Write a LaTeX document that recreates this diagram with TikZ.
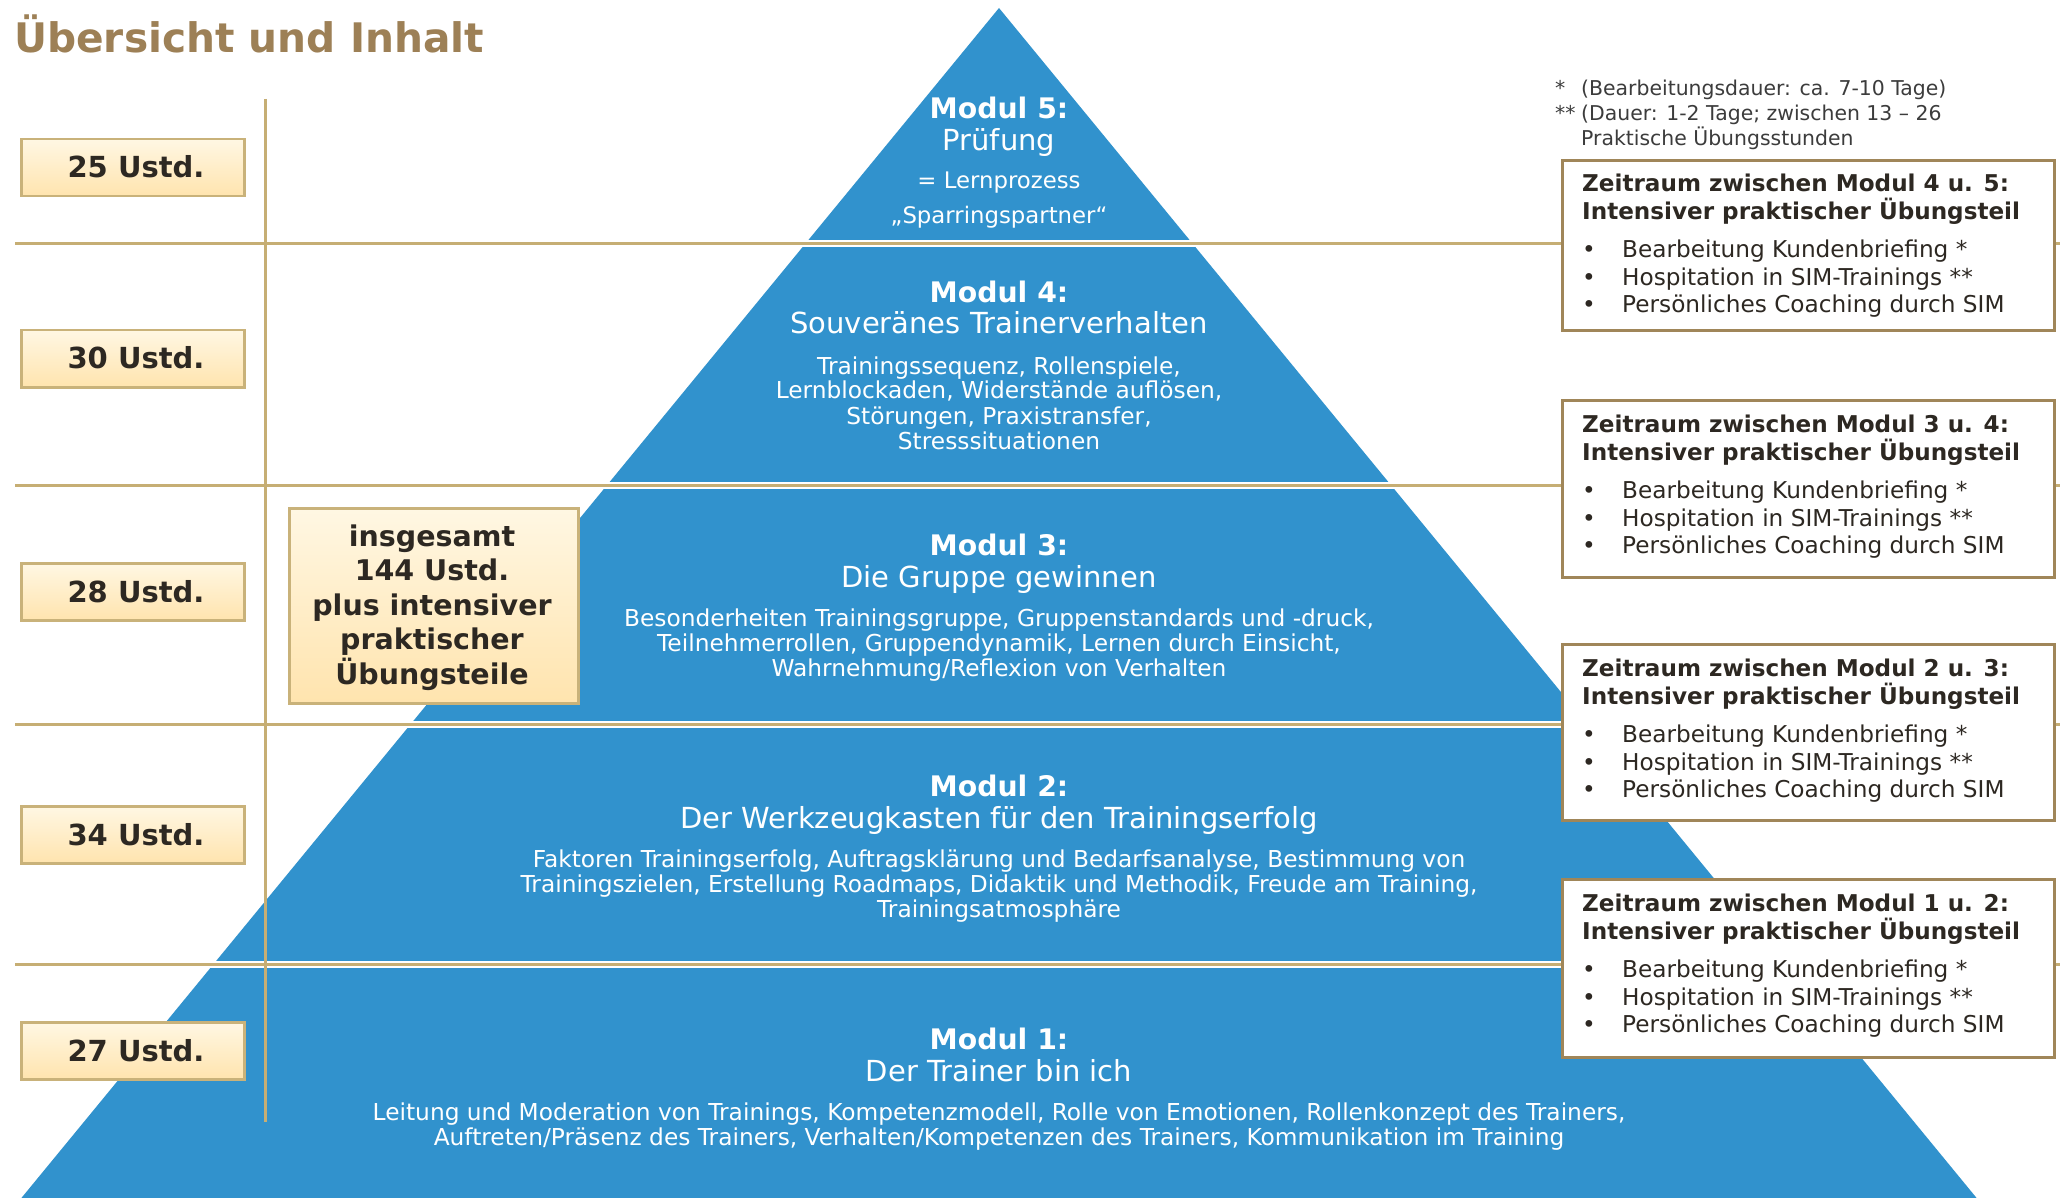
\documentclass[tikz,border=0pt]{standalone}
\usepackage{fontspec}
\setmainfont{DejaVu Sans}
\definecolor{pblue}{RGB}{49,146,205}
\definecolor{goldline}{RGB}{198,174,116}
\definecolor{titlebrown}{RGB}{157,128,86}
\definecolor{lboxborder}{RGB}{201,178,122}
\definecolor{lboxtop}{RGB}{255,247,227}
\definecolor{lboxbot}{RGB}{255,228,174}
\definecolor{rboxborder}{RGB}{160,134,89}
\definecolor{darktext}{RGB}{45,40,34}
\definecolor{notetext}{RGB}{60,60,60}
\tikzset{
  lbox/.style={draw=lboxborder, line width=2.5pt, top color=lboxtop, bottom color=lboxbot, inner sep=0pt, anchor=north west},
  rbox/.style={draw=rboxborder, line width=3pt, fill=white, inner sep=0pt, anchor=north west},
  txt/.style={inner sep=0pt, anchor=base},
  modtitle/.style={txt, text=white, font=\bfseries\fontsize{28.3}{30}\selectfont},
  modsub/.style={txt, text=white, font=\fontsize{29}{30}\selectfont},
  moddesc/.style={txt, text=white, font=\fontsize{23.3}{25}\selectfont},
  hours/.style={txt, text=darktext, font=\bfseries\fontsize{29}{30}\selectfont},
  total/.style={txt, text=darktext, font=\bfseries\fontsize{28.5}{30}\selectfont},
  rtitle/.style={txt, anchor=base west, text=darktext, font=\bfseries\fontsize{23.1}{28}\selectfont},
  ritem/.style={txt, anchor=base west, text=darktext, font=\fontsize{23.2}{28}\selectfont},
  note/.style={txt, anchor=base west, text=notetext, font=\fontsize{20.4}{24}\selectfont},
  sepline/.style={white, line width=7pt},
  gline/.style={goldline, line width=3pt}
}
\begin{document}
\begin{tikzpicture}[x=1pt,y=-1pt]
\useasboundingbox[fill=white] (0,0) rectangle (2065,1198);
% pyramid
\fill[pblue] (999,8) -- (1976.6,1198) -- (21.4,1198) -- cycle;
\foreach \yy in {244,485,724,964} {
  \draw[sepline] (0,\yy) -- (2065,\yy);
}
\foreach \yy in {244,485,724,964} {
  \draw[gline] (15,\yy) -- (2060,\yy);
}
\draw[gline] (265,99) -- (265,1122);
% title
\node[txt, anchor=base west, text=titlebrown, font=\bfseries\fontsize{40.7}{44}\selectfont] (title) at (14,53) {Übersicht und Inhalt};
% left hour boxes
\foreach \tp/\hh in {138/25, 329/30, 562/28, 805/34, 1021/27} {
  \node[lbox, minimum width=223pt, minimum height=57pt] (box\hh) at (20,\tp) {};
  \node[hours] (hrs\hh) at (136,\tp+40) {\hh{} Ustd.};
}
% total box
\node[lbox, minimum width=289pt, minimum height=195pt] (totalbox) at (288,507) {};
\node[total] (tot1) at (432,546) {insgesamt};
\node[total] (tot2) at (432,580) {144 Ustd.};
\node[total] (tot3) at (432,615) {plus intensiver};
\node[total] (tot4) at (432,649) {praktischer};
\node[total] (tot5) at (432,684) {Übungsteile};
% right boxes
\foreach \tp/\bt/\lbl/\nm in {159/329/4 u. 5/A, 399/576/3 u. 4/B, 643/819/2 u. 3/C, 878/1056/1 u. 2/D} {
  \node[rbox, minimum width=492pt, minimum height=\bt-\tp] (rbox\nm) at (1561,\tp) {};
  \node[rtitle] (rt1\nm) at (1582,\tp+33) {Zeitraum zwischen Modul \lbl:};
  \node[rtitle] (rt2\nm) at (1582,\tp+61) {Intensiver praktischer Übungsteil};
  \node[ritem] (rb1\nm) at (1582,\tp+99) {•};
  \node[ritem] (ri1\nm) at (1622,\tp+99) {Bearbeitung Kundenbriefing *};
  \node[ritem] (rb2\nm) at (1582,\tp+127) {•};
  \node[ritem] (ri2\nm) at (1622,\tp+127) {Hospitation in SIM-Trainings **};
  \node[ritem] (rb3\nm) at (1582,\tp+154) {•};
  \node[ritem] (ri3\nm) at (1622,\tp+154) {Persönliches Coaching durch SIM};
}
% footnotes
\node[note] (n1a) at (1555,96) {*};
\node[note] (n1b) at (1581,96) {(Bearbeitungsdauer: ca. 7-10 Tage)};
\node[note] (n2a) at (1555,121) {**};
\node[note] (n2b) at (1581,121) {(Dauer: 1-2 Tage; zwischen 13 – 26};
\node[note] (n3) at (1581,146) {Praktische Übungsstunden};
% module 5
\node[modtitle] (m5t) at (999,119) {Modul 5:};
\node[modsub] (m5s) at (999,151) {Prüfung};
\node[moddesc, font=\fontsize{22.8}{25}\selectfont] (m5d1) at (999,189) {= Lernprozess};
\node[moddesc, font=\fontsize{22.8}{25}\selectfont] (m5d2) at (999,224) {„Sparringspartner“};
% module 4
\node[modtitle] (m4t) at (999,303) {Modul 4:};
\node[modsub] (m4s) at (999,334) {Souveränes Trainerverhalten};
\node[moddesc] (m4d1) at (999,374) {Trainingssequenz, Rollenspiele,};
\node[moddesc] (m4d2) at (999,399) {Lernblockaden, Widerstände auflösen,};
\node[moddesc] (m4d3) at (999,424) {Störungen, Praxistransfer,};
\node[moddesc] (m4d4) at (999,449) {Stresssituationen};
% module 3
\node[modtitle] (m3t) at (999,555) {Modul 3:};
\node[modsub] (m3s) at (999,587) {Die Gruppe gewinnen};
\node[moddesc] (m3d1) at (999,626) {Besonderheiten Trainingsgruppe, Gruppenstandards und -druck,};
\node[moddesc] (m3d2) at (999,651) {Teilnehmerrollen, Gruppendynamik, Lernen durch Einsicht,};
\node[moddesc] (m3d3) at (999,676) {Wahrnehmung/Reflexion von Verhalten};
% module 2
\node[modtitle] (m2t) at (999,796) {Modul 2:};
\node[modsub] (m2s) at (999,828) {Der Werkzeugkasten für den Trainingserfolg};
\node[moddesc] (m2d1) at (999,867) {Faktoren Trainingserfolg, Auftragsklärung und Bedarfsanalyse, Bestimmung von};
\node[moddesc] (m2d2) at (999,892) {Trainingszielen, Erstellung Roadmaps, Didaktik und Methodik, Freude am Training,};
\node[moddesc] (m2d3) at (999,917) {Trainingsatmosphäre};
% module 1
\node[modtitle] (m1t) at (999,1049) {Modul 1:};
\node[modsub] (m1s) at (999,1081) {Der Trainer bin ich};
\node[moddesc] (m1d1) at (999,1120) {Leitung und Moderation von Trainings, Kompetenzmodell, Rolle von Emotionen, Rollenkonzept des Trainers,};
\node[moddesc] (m1d2) at (999,1145) {Auftreten/Präsenz des Trainers, Verhalten/Kompetenzen des Trainers, Kommunikation im Training};
\end{tikzpicture}
\end{document}
